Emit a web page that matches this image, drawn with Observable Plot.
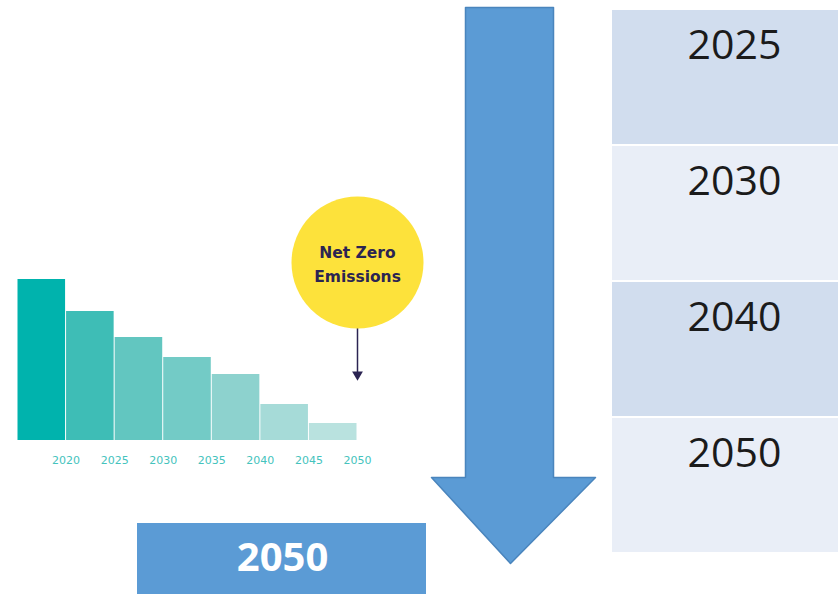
<!DOCTYPE html>
<html><head><meta charset="utf-8">
<script src="https://cdn.jsdelivr.net/npm/d3@7"></script>
<script src="https://cdn.jsdelivr.net/npm/@observablehq/plot@0.6"></script>
<style>
html,body{margin:0;padding:0;background:#fff;}
#wrap{position:relative;width:838px;height:594px;overflow:hidden;background:#fff;}
#wrap > svg{position:absolute;margin:0;}
</style></head><body><div id="wrap"></div>
<script>
// ---- data ----
const years = [2020, 2025, 2030, 2035, 2040, 2045, 2050];
const emissions = [161, 129, 103, 83, 66, 36, 17];
const tableYears = ["2025", "2030", "2040", "2050"];
const targetLabel = ["Net Zero\nEmissions"];
const targetYear = [2050];
const highlightYear = ["2050"];

// ---- styles ----
const barColors = ["#00b3ad", "#3ebdb6", "#62c6c0", "#73cbc6", "#8dd2ce", "#a6dbd8", "#b9e2df"];
const rowColors = ["#d1ddee", "#e9eef7", "#d1ddee", "#e9eef7"];
const blue = "#5b9bd5";

const bars = years.map((y, i) => ({year: y, value: emissions[i]}));
const wrap = document.getElementById("wrap");

function place(el, left, top) {
  el.style.left = left + "px";
  el.style.top = top + "px";
  wrap.appendChild(el);
}

// Big downward arrow and highlighted year box (layout layer)
const arrowOutline = [
  {x: 465, y: 7}, {x: 553, y: 7}, {x: 553, y: 477}, {x: 595, y: 477},
  {x: 510, y: 563}, {x: 431, y: 477}, {x: 465, y: 477}, {x: 465, y: 7}
];
const layout = Plot.plot({
  width: 838, height: 594, margin: 0,
  x: {type: "identity", axis: null}, y: {type: "identity", axis: null},
  style: {background: "transparent", fontFamily: "Open Sans"},
  marks: [
    Plot.line(arrowOutline, {x: "x", y: "y", fill: blue, stroke: "#4a85bd", strokeWidth: 1.5, curve: "linear"}),
    Plot.rect(highlightYear, {x1: 137, x2: 426, y1: 523, y2: 600, fill: blue}),
    Plot.text(highlightYear, {x: 282, y: 558, text: d => d, fill: "white", fontSize: 40, fontWeight: "bold", fontFamily: "Open Sans"})
  ]
});
place(layout, 0, 0);

// Emissions bar chart with Net Zero annotation
const chart = Plot.plot({
  width: 440, height: 500,
  marginLeft: 17, marginRight: 83, marginTop: 0, marginBottom: 60,
  x: {domain: [2015, 2050], axis: null},
  y: {domain: [0, 161], range: [440, 279], axis: null},
  color: {type: "ordinal", domain: years, range: barColors},
  style: {background: "transparent", overflow: "visible", fontFamily: "DejaVu Sans"},
  marks: [
    Plot.rectY(bars, {x1: d => d.year - 5, x2: d => d.year, y: "value", fill: "year", insetLeft: 0.5, insetRight: 0.5}),
    Plot.axisX({ticks: years, tickFormat: "d", tickSize: 0, tickPadding: 16, fontSize: 11, fill: "#45c3bd", label: null}),
    Plot.ruleX(targetYear, {x: d => d, y1: 115, y2: 68, stroke: "#2b2452", strokeWidth: 1.5}),
    Plot.dot(targetYear, {x: d => d, y: 66, symbol: "triangle", rotate: 180, r: 4, fill: "#2b2452"}),
    Plot.dot(targetYear, {x: d => d, y: 178, r: 66, fill: "#fde23b"}),
    Plot.text(targetLabel, {x: targetYear[0], y: 178, text: d => d, fontSize: 15.5, fontWeight: "bold", fill: "#2b2452", lineHeight: 1.55, fontFamily: "DejaVu Sans"})
  ]
});
place(chart, 0, 0);

// Timeline table
const table = Plot.plot({
  width: 244, height: 545, margin: 0,
  x: {domain: [0, 1], axis: null},
  y: {domain: tableYears, paddingInner: 0.018, paddingOuter: 0, axis: null},
  color: {domain: tableYears, range: rowColors},
  style: {background: "transparent", fontFamily: "Open Sans"},
  marks: [
    Plot.barX(tableYears, {y: d => d, x1: 0, x2: 1, fill: d => d}),
    Plot.text(tableYears, {y: d => d, x: 0.5, text: d => d, dy: -32, fontSize: 41, fill: "#1b1b1b", fontFamily: "Open Sans"})
  ]
});
place(table, 612, 8);
</script>
</body></html>
